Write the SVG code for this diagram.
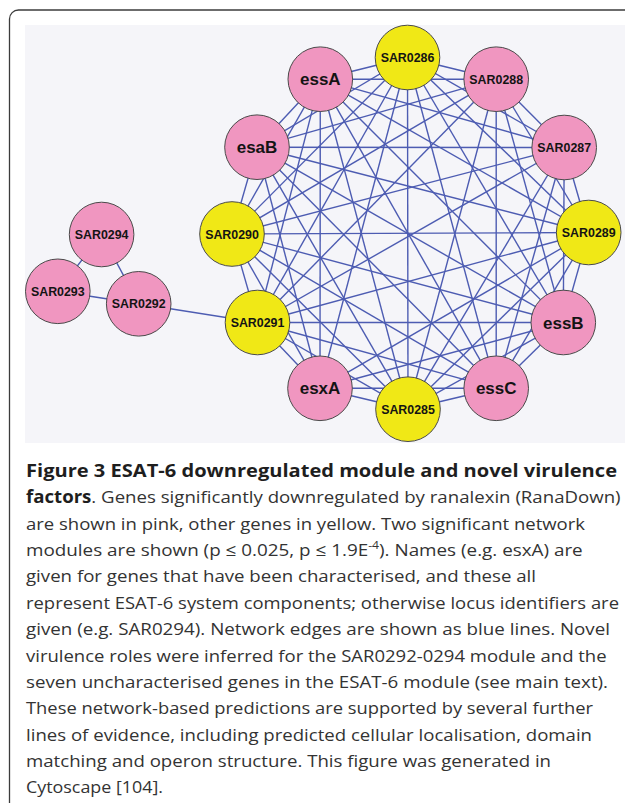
<svg xmlns="http://www.w3.org/2000/svg" width="625" height="803" viewBox="0 0 625 803">
<style>
.bg{fill:#f5f5f9}
.frame{fill:#ffffff;stroke:#3c3c3c;stroke-width:1.3}
.e{stroke:#4d5cb2;stroke-width:1.4}
.pink{fill:#f096c0;stroke:#4a4a4a;stroke-width:1}
.yel{fill:#f0e816;stroke:#4a4a4a;stroke-width:1}
.nm{font-family:"Liberation Sans",Arial,sans-serif;font-weight:bold;font-size:17px;fill:#141414;text-anchor:middle}
.sar{font-family:"Liberation Sans",Arial,sans-serif;font-weight:bold;font-size:12.4px;fill:#141414;text-anchor:middle}
.cap{font-family:"Open Sans","Noto Sans","Liberation Sans",sans-serif;font-size:17px;fill:#333333}
.b{font-weight:bold;fill:#1e1e1e}
</style>
<rect class="frame" x="9.5" y="10" width="640" height="830" rx="9"/>
<rect class="bg" x="25" y="25" width="600" height="418"/>
<g id="edges">
<line class="e" x1="407.5" y1="57.5" x2="496.2" y2="79.2"/>
<line class="e" x1="407.5" y1="57.5" x2="564.2" y2="147.5"/>
<line class="e" x1="407.5" y1="57.5" x2="588.7" y2="232.5"/>
<line class="e" x1="407.5" y1="57.5" x2="563.3" y2="322.5"/>
<line class="e" x1="407.5" y1="57.5" x2="496.2" y2="388.3"/>
<line class="e" x1="407.5" y1="57.5" x2="408" y2="409.2"/>
<line class="e" x1="407.5" y1="57.5" x2="320" y2="388.3"/>
<line class="e" x1="407.5" y1="57.5" x2="257.5" y2="322.5"/>
<line class="e" x1="407.5" y1="57.5" x2="232" y2="234"/>
<line class="e" x1="407.5" y1="57.5" x2="257" y2="147.2"/>
<line class="e" x1="407.5" y1="57.5" x2="320.3" y2="79.2"/>
<line class="e" x1="496.2" y1="79.2" x2="564.2" y2="147.5"/>
<line class="e" x1="496.2" y1="79.2" x2="588.7" y2="232.5"/>
<line class="e" x1="496.2" y1="79.2" x2="563.3" y2="322.5"/>
<line class="e" x1="496.2" y1="79.2" x2="496.2" y2="388.3"/>
<line class="e" x1="496.2" y1="79.2" x2="408" y2="409.2"/>
<line class="e" x1="496.2" y1="79.2" x2="257.5" y2="322.5"/>
<line class="e" x1="496.2" y1="79.2" x2="232" y2="234"/>
<line class="e" x1="496.2" y1="79.2" x2="257" y2="147.2"/>
<line class="e" x1="496.2" y1="79.2" x2="320.3" y2="79.2"/>
<line class="e" x1="564.2" y1="147.5" x2="588.7" y2="232.5"/>
<line class="e" x1="564.2" y1="147.5" x2="563.3" y2="322.5"/>
<line class="e" x1="564.2" y1="147.5" x2="496.2" y2="388.3"/>
<line class="e" x1="564.2" y1="147.5" x2="408" y2="409.2"/>
<line class="e" x1="564.2" y1="147.5" x2="257.5" y2="322.5"/>
<line class="e" x1="564.2" y1="147.5" x2="232" y2="234"/>
<line class="e" x1="564.2" y1="147.5" x2="257" y2="147.2"/>
<line class="e" x1="564.2" y1="147.5" x2="320.3" y2="79.2"/>
<line class="e" x1="588.7" y1="232.5" x2="563.3" y2="322.5"/>
<line class="e" x1="588.7" y1="232.5" x2="496.2" y2="388.3"/>
<line class="e" x1="588.7" y1="232.5" x2="408" y2="409.2"/>
<line class="e" x1="588.7" y1="232.5" x2="320" y2="388.3"/>
<line class="e" x1="588.7" y1="232.5" x2="257.5" y2="322.5"/>
<line class="e" x1="588.7" y1="232.5" x2="232" y2="234"/>
<line class="e" x1="588.7" y1="232.5" x2="257" y2="147.2"/>
<line class="e" x1="588.7" y1="232.5" x2="320.3" y2="79.2"/>
<line class="e" x1="563.3" y1="322.5" x2="496.2" y2="388.3"/>
<line class="e" x1="563.3" y1="322.5" x2="408" y2="409.2"/>
<line class="e" x1="563.3" y1="322.5" x2="320" y2="388.3"/>
<line class="e" x1="563.3" y1="322.5" x2="257.5" y2="322.5"/>
<line class="e" x1="563.3" y1="322.5" x2="232" y2="234"/>
<line class="e" x1="563.3" y1="322.5" x2="257" y2="147.2"/>
<line class="e" x1="563.3" y1="322.5" x2="320.3" y2="79.2"/>
<line class="e" x1="496.2" y1="388.3" x2="408" y2="409.2"/>
<line class="e" x1="496.2" y1="388.3" x2="320" y2="388.3"/>
<line class="e" x1="496.2" y1="388.3" x2="257.5" y2="322.5"/>
<line class="e" x1="496.2" y1="388.3" x2="232" y2="234"/>
<line class="e" x1="496.2" y1="388.3" x2="257" y2="147.2"/>
<line class="e" x1="496.2" y1="388.3" x2="320.3" y2="79.2"/>
<line class="e" x1="408" y1="409.2" x2="320" y2="388.3"/>
<line class="e" x1="408" y1="409.2" x2="257.5" y2="322.5"/>
<line class="e" x1="408" y1="409.2" x2="232" y2="234"/>
<line class="e" x1="408" y1="409.2" x2="257" y2="147.2"/>
<line class="e" x1="408" y1="409.2" x2="320.3" y2="79.2"/>
<line class="e" x1="320" y1="388.3" x2="257.5" y2="322.5"/>
<line class="e" x1="320" y1="388.3" x2="232" y2="234"/>
<line class="e" x1="320" y1="388.3" x2="257" y2="147.2"/>
<line class="e" x1="320" y1="388.3" x2="320.3" y2="79.2"/>
<line class="e" x1="257.5" y1="322.5" x2="232" y2="234"/>
<line class="e" x1="257.5" y1="322.5" x2="320.3" y2="79.2"/>
<line class="e" x1="232" y1="234" x2="257" y2="147.2"/>
<line class="e" x1="232" y1="234" x2="320.3" y2="79.2"/>
<line class="e" x1="257" y1="147.2" x2="320.3" y2="79.2"/>
<line class="e" x1="101.6" y1="234.5" x2="57.8" y2="291.3"/>
<line class="e" x1="101.6" y1="234.5" x2="138.7" y2="303.8"/>
<line class="e" x1="57.8" y1="291.3" x2="138.7" y2="303.8"/>
<line class="e" x1="138.7" y1="303.8" x2="257.5" y2="322.5"/>
</g>
<g id="node-SAR0286"><circle class="yel" cx="407.5" cy="57.5" r="32.3"/><text class="sar" x="407.5" y="62">SAR0286</text></g>
<g id="node-SAR0288"><circle class="pink" cx="496.2" cy="79.2" r="32.3"/><text class="sar" x="496.2" y="83.7">SAR0288</text></g>
<g id="node-SAR0287"><circle class="pink" cx="564.2" cy="147.5" r="32.3"/><text class="sar" x="564.2" y="152">SAR0287</text></g>
<g id="node-SAR0289"><circle class="yel" cx="588.7" cy="232.5" r="32.3"/><text class="sar" x="588.7" y="237">SAR0289</text></g>
<g id="node-essB"><circle class="pink" cx="563.3" cy="322.5" r="32.3"/><text class="nm" x="563.3" y="328.5">essB</text></g>
<g id="node-essC"><circle class="pink" cx="496.2" cy="388.3" r="32.3"/><text class="nm" x="496.2" y="394.3">essC</text></g>
<g id="node-SAR0285"><circle class="yel" cx="408" cy="409.2" r="32.3"/><text class="sar" x="408" y="413.7">SAR0285</text></g>
<g id="node-esxA"><circle class="pink" cx="320" cy="388.3" r="32.3"/><text class="nm" x="320" y="394.3">esxA</text></g>
<g id="node-SAR0291"><circle class="yel" cx="257.5" cy="322.5" r="32.3"/><text class="sar" x="257.5" y="327">SAR0291</text></g>
<g id="node-SAR0290"><circle class="yel" cx="232" cy="234" r="32.3"/><text class="sar" x="232" y="238.5">SAR0290</text></g>
<g id="node-esaB"><circle class="pink" cx="257" cy="147.2" r="32.3"/><text class="nm" x="257" y="153.2">esaB</text></g>
<g id="node-essA"><circle class="pink" cx="320.3" cy="79.2" r="32.3"/><text class="nm" x="320.3" y="85.2">essA</text></g>
<g id="node-SAR0294"><circle class="pink" cx="101.6" cy="234.5" r="32.3"/><text class="sar" x="101.6" y="239">SAR0294</text></g>
<g id="node-SAR0293"><circle class="pink" cx="57.8" cy="291.3" r="32.3"/><text class="sar" x="57.8" y="295.8">SAR0293</text></g>
<g id="node-SAR0292"><circle class="pink" cx="138.7" cy="303.8" r="32.3"/><text class="sar" x="138.7" y="308.3">SAR0292</text></g>
<g id="caption" class="cap">
<text x="26" y="477" textLength="591" lengthAdjust="spacingAndGlyphs" class="b">Figure 3 ESAT-6 downregulated module and novel virulence</text>
<text x="26" y="503.4" textLength="594.6" lengthAdjust="spacingAndGlyphs"><tspan class="b">factors</tspan>. Genes significantly downregulated by ranalexin (RanaDown)</text>
<text x="26" y="529.7" textLength="559" lengthAdjust="spacingAndGlyphs">are shown in pink, other genes in yellow. Two significant network</text>
<text x="26" y="556.1" textLength="556.7" lengthAdjust="spacingAndGlyphs">modules are shown (p ≤ 0.025, p ≤ 1.9E<tspan dy="-7" font-size="11">-4</tspan><tspan dy="7">). Names (e.g. esxA) are</tspan></text>
<text x="26" y="582.4" textLength="510" lengthAdjust="spacingAndGlyphs">given for genes that have been characterised, and these all</text>
<text x="26" y="608.8" textLength="593" lengthAdjust="spacingAndGlyphs">represent ESAT-6 system components; otherwise locus identifiers are</text>
<text x="26" y="635.1" textLength="584" lengthAdjust="spacingAndGlyphs">given (e.g. SAR0294). Network edges are shown as blue lines. Novel</text>
<text x="26" y="661.5" textLength="580.6" lengthAdjust="spacingAndGlyphs">virulence roles were inferred for the SAR0292-0294 module and the</text>
<text x="26" y="687.8" textLength="582" lengthAdjust="spacingAndGlyphs">seven uncharacterised genes in the ESAT-6 module (see main text).</text>
<text x="26" y="714.2" textLength="567" lengthAdjust="spacingAndGlyphs">These network-based predictions are supported by several further</text>
<text x="26" y="740.5" textLength="566" lengthAdjust="spacingAndGlyphs">lines of evidence, including predicted cellular localisation, domain</text>
<text x="26" y="766.9" textLength="525" lengthAdjust="spacingAndGlyphs">matching and operon structure. This figure was generated in</text>
<text x="26" y="793.2" textLength="137" lengthAdjust="spacingAndGlyphs">Cytoscape [104].</text>
</g>
</svg>
